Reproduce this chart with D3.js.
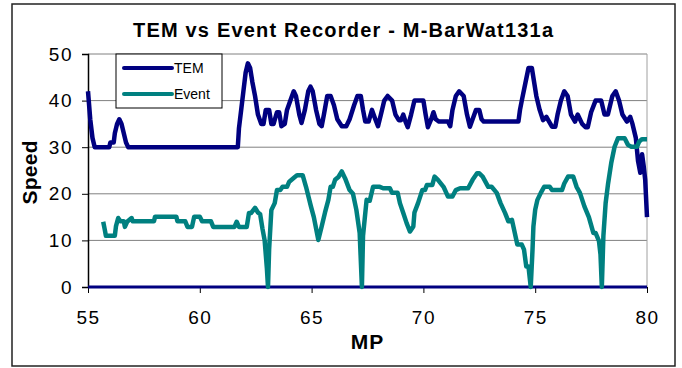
<!DOCTYPE html>
<html>
<head>
<meta charset="utf-8">
<script src="https://cdn.jsdelivr.net/npm/d3@7"></script>
<style>
  body { margin: 0; background: #fff; }
  text { font-family: Arial, "Liberation Sans", sans-serif; }
</style>
</head>
<body>
<script>
// data
const temMP = [55.0, 55.1, 55.2, 55.3, 55.95, 56.0, 56.15, 56.2, 56.3, 56.4, 56.5, 56.6, 56.7, 56.8,
  61.7, 61.75, 61.85, 61.95, 62.05, 62.15, 62.25, 62.35, 62.47, 62.6, 62.75, 62.85, 62.95, 63.1, 63.2,
  63.3, 63.45, 63.55, 63.65, 63.8, 63.9, 64.05, 64.2, 64.3, 64.45, 64.55, 64.7, 64.85, 64.95, 65.05,
  65.2, 65.35, 65.45, 65.55, 65.7, 65.85, 66.0, 66.15, 66.35, 66.55, 66.7, 66.9, 67.05, 67.2, 67.3,
  67.4, 67.55, 67.7, 67.85, 67.97, 68.1, 68.25, 68.4, 68.6, 68.75, 68.9, 69.0, 69.1, 69.2, 69.3, 69.45,
  69.6, 69.8, 70.0, 70.1, 70.2, 70.35, 70.45, 70.55, 70.7, 71.1, 71.2, 71.3, 71.45, 71.6, 71.8, 71.95,
  72.08, 72.2, 72.35, 72.5, 72.6, 72.7, 74.25, 74.32, 74.4, 74.55, 74.7, 74.85, 74.95, 75.05, 75.2,
  75.35, 75.5, 75.75, 75.9, 76.0, 76.15, 76.3, 76.45, 76.6, 76.78, 76.9, 77.1, 77.25, 77.35, 77.5,
  77.7, 77.95, 78.1, 78.25, 78.45, 78.6, 78.75, 78.9, 79.1, 79.25, 79.35, 79.5, 79.6, 79.7, 79.78,
  79.85, 79.92, 80.0]
const temSpeed = [42, 36, 32, 30, 30, 31, 31, 33, 35, 36, 35, 33, 31, 30,
  30, 34, 38, 42, 46, 48, 47, 44, 41, 37, 35, 35, 38, 38, 35,
  35, 37.5, 37.5, 34.5, 35, 38, 40, 42, 41, 37, 35.2, 38, 42, 43, 42,
  38, 35, 34.5, 37, 41, 41, 39, 36, 34.5, 34.5, 36, 39, 41, 41, 38,
  35.5, 35.5, 38, 36, 34.5, 37, 40, 41, 40, 37, 35.8, 35.8, 37, 35.5, 34.3, 37,
  40, 40, 40, 37, 34.3, 36, 37.5, 36, 35.5, 35.5, 34.5, 38, 41, 42, 41, 37,
  34.4, 36, 38, 38, 36, 35.5, 35.5, 38, 40, 43.5, 47, 47, 44, 41, 38,
  35.8, 36.5, 34.4, 34.4, 37, 40, 42, 41, 37, 35.5, 37, 35, 34.3, 34.3, 37.5,
  40, 40, 37, 37, 41, 42, 40, 37, 35.5, 36.5, 35, 32, 27, 24.5, 28.5,
  26, 23, 15]

const eventMP = [55.68, 55.75, 55.8, 56.2, 56.25, 56.35, 56.45, 56.6, 56.65, 56.75, 56.95, 57.0, 57.95,
  58.0, 58.95, 59.0, 59.35, 59.45, 59.65, 59.75, 60.0, 60.1, 60.5, 60.6, 61.55, 61.65, 61.75, 62.1,
  62.2, 62.3, 62.47, 62.6, 62.7, 62.8, 62.9, 63.0, 63.05, 63.1, 63.2, 63.35, 63.45, 63.6, 63.7, 63.9,
  64.0, 64.25, 64.35, 64.6, 64.75, 64.97, 65.1, 65.3, 65.45, 65.6, 65.75, 65.85, 65.95, 66.05, 66.2,
  66.35, 66.5, 66.7, 66.85, 67.0, 67.15, 67.25, 67.3, 67.46, 67.6, 67.75, 68.05, 68.2, 68.5, 68.6,
  68.85, 68.95, 69.1, 69.25, 69.4, 69.55, 69.6, 69.76, 69.95, 70.07, 70.16, 70.4, 70.5, 70.65, 70.9,
  71.1, 71.3, 71.45, 71.64, 72.0, 72.2, 72.4, 72.5, 72.65, 72.9, 73.05, 73.28, 73.45, 73.65, 73.8,
  73.96, 74.2, 74.4, 74.5, 74.6, 74.7, 74.8, 74.88, 74.92, 75.0, 75.1, 75.25, 75.4, 75.65, 75.75,
  76.2, 76.3, 76.47, 76.7, 76.85, 77.0, 77.2, 77.4, 77.6, 77.7, 77.85, 77.92, 77.98, 78.05, 78.15,
  78.26, 78.4, 78.55, 78.7, 79.0, 79.15, 79.3, 79.55, 79.65, 79.77, 80.0]
const eventSpeed = [14, 12.3, 11, 11, 13, 14.8, 14.1, 14.1, 12.9, 14, 14.8, 14.1, 14.1,
  15.1, 15.1, 14.1, 14.1, 12.9, 12.9, 15.1, 15.1, 14.1, 14.1, 12.9, 12.9, 14, 12.9, 12.9,
  15.9, 15.9, 17, 16, 15.6, 12.6, 10, 4, 0, 8, 16.5, 18, 20.8, 20.8, 21.5, 21.5,
  22.6, 23.6, 24, 24, 21.5, 17.3, 15, 10.1, 13, 16, 18.7, 21.5, 21.5, 23, 23.6,
  24.8, 23.3, 20.8, 20, 16.6, 11.6, 0, 11, 18.7, 18.5, 21.5, 21.5, 21.2, 21.2, 20.2,
  20.2, 18, 15.9, 13.7, 11.9, 13, 16, 18, 20.8, 20.8, 21.9, 21.9, 23.7, 23, 21.5,
  19.4, 19.4, 20.8, 21.2, 21.2, 23, 24.4, 24.4, 23.7, 21.5, 21.5, 20.2, 18, 15.9, 14.1,
  14.4, 9.1, 9.1, 8, 4.4, 4.4, 0, 8, 13, 16.6, 18.7, 20.2, 21.5, 21.5, 20.8,
  20.8, 22.2, 23.7, 23.7, 21.5, 20.2, 17.3, 15, 11.6, 11.6, 9.9, 7, 0, 11, 18,
  22.2, 26.6, 30.1, 31.9, 31.9, 30.5, 30.1, 30.1, 31.2, 31.7, 31.7]

const xTicks = [55, 60, 65, 70, 75, 80]
const yTicks = [0, 10, 20, 30, 40, 50]
const seriesNames = ["TEM", "Event"]
const seriesColors = ["#000080", "#008080"]

const width = 682, height = 368
const margin = {left: 88, right: 35, top: 54, bottom: 81}

const svg = d3.select("body").append("svg")
  .attr("width", width)
  .attr("height", height)

svg.append("rect")
  .attr("x", 12).attr("y", 4)
  .attr("width", 663).attr("height", 362)
  .attr("fill", "#fff")
  .attr("stroke", "#222")
  .attr("stroke-width", 1.5)

const x = d3.scaleLinear().domain([55, 80]).range([margin.left, width - margin.right])
const y = d3.scaleLinear().domain([0, 50]).range([height - margin.bottom, margin.top])

// gridlines
svg.append("g")
  .selectAll("line")
  .data(yTicks.filter(d => d > 0))
  .join("line")
    .attr("x1", x(55)).attr("x2", x(80))
    .attr("y1", d => y(d)).attr("y2", d => y(d))
    .attr("stroke", "#808080")
    .attr("stroke-width", 1)

// right border of plot area
svg.append("line")
  .attr("x1", x(80)).attr("x2", x(80))
  .attr("y1", y(50)).attr("y2", y(0))
  .attr("stroke", "#a0a0a0")

// y axis
const yAxis = svg.append("g")
  .attr("transform", `translate(${x(55)},0)`)
  .call(d3.axisLeft(y).tickValues(yTicks).tickSize(6).tickPadding(9))
yAxis.select(".domain").attr("stroke", "#000").attr("stroke-width", 1.5)
yAxis.selectAll(".tick text").attr("font-size", 19).attr("letter-spacing", 1.5).attr("fill", "#000")

// x axis
const xAxis = svg.append("g")
  .attr("transform", `translate(0,${y(0)})`)
  .call(d3.axisBottom(x).tickValues(xTicks).tickSize(6).tickPadding(18))
xAxis.select(".domain").remove()
xAxis.selectAll(".tick text").attr("font-size", 19).attr("letter-spacing", 1.5).attr("fill", "#000")

svg.append("line")
  .attr("x1", x(55)).attr("x2", x(80))
  .attr("y1", y(0)).attr("y2", y(0))
  .attr("stroke", "#000080")
  .attr("stroke-width", 3)

const line = d3.line()
  .x(d => x(d[0]))
  .y(d => y(d[1]))

const series = [
  d3.zip(temMP, temSpeed),
  d3.zip(eventMP, eventSpeed)
]

svg.append("g")
  .selectAll("path")
  .data(series)
  .join("path")
    .attr("d", line)
    .attr("fill", "none")
    .attr("stroke", (d, i) => seriesColors[i])
    .attr("stroke-width", 4.5)
    .attr("stroke-linejoin", "round")

// titles
svg.append("text")
  .attr("x", 343).attr("y", 37)
  .attr("text-anchor", "middle")
  .attr("font-size", 20)
  .attr("font-weight", "bold")
  .attr("textLength", 420)
  .attr("lengthAdjust", "spacing")
  .text("TEM vs Event Recorder - M-BarWat131a")

svg.append("text")
  .attr("x", x(67.5)).attr("y", 349)
  .attr("text-anchor", "middle")
  .attr("font-size", 21)
  .attr("font-weight", "bold")
  .attr("letter-spacing", 1)
  .text("MP")

svg.append("text")
  .attr("transform", `translate(37,${(y(0) + y(50)) / 2 + 2}) rotate(-90)`)
  .attr("text-anchor", "middle")
  .attr("font-size", 21)
  .attr("font-weight", "bold")
  .attr("textLength", 64)
  .attr("lengthAdjust", "spacing")
  .text("Speed")

// legend
const legend = svg.append("g")
legend.append("rect")
  .attr("x", 116).attr("y", 54)
  .attr("width", 106).attr("height", 54)
  .attr("fill", "#fff")
  .attr("stroke", "#000")
  .attr("stroke-width", 1)

const items = legend.selectAll("g.item")
  .data(seriesNames)
  .join("g")
    .attr("class", "item")
    .attr("transform", (d, i) => `translate(0,${68 + i * 26})`)

items.append("line")
  .attr("x1", 124).attr("x2", 172)
  .attr("stroke", (d, i) => seriesColors[i])
  .attr("stroke-width", 4)
  .attr("stroke-linecap", "round")

items.append("text")
  .attr("x", 174).attr("y", 5)
  .attr("font-size", 14)
  .text(d => d)
</script>
</body>
</html>
